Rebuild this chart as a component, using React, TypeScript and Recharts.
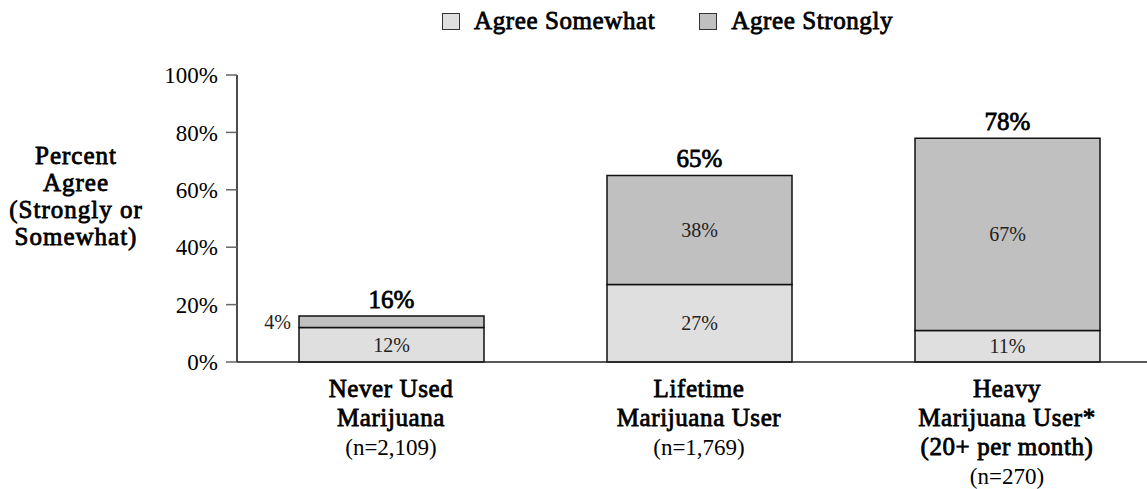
import React from "react";
import { BarChart, Bar, XAxis, YAxis, LabelList } from "recharts";

const categoryLines = [
  ["Never Used", "Marijuana"],
  ["Lifetime", "Marijuana User"],
  ["Heavy", "Marijuana User*", "(20+ per month)"],
];
const sampleSizes = ["(n=2,109)", "(n=1,769)", "(n=270)"];
const agreeSomewhat = [12, 27, 11];
const agreeStrongly = [4, 38, 67];
const totals = [16, 65, 78];
const seriesNames = ["Agree Somewhat", "Agree Strongly"];
const yTicks = [0, 20, 40, 60, 80, 100];
const yTitleLines = ["Percent", "Agree", "(Strongly or", "Somewhat)"];

const FONT = "Liberation Serif, Times New Roman, serif";
const LIGHT = "#DFDFDF";
const DARK = "#C0C0C0";

// bold serif isn't available, so fake it with a thin stroke
const boldText = { stroke: "#000", strokeWidth: 0.8, fill: "#000" };

const data = categoryLines.map((_, i) => ({
  idx: i,
  somewhat: agreeSomewhat[i],
  strongly: agreeStrongly[i],
}));

function CategoryTick(props: any) {
  const { x, y, payload } = props;
  const i = payload.value as number;
  const lines = categoryLines[i];
  return (
    <g fontFamily={FONT}>
      {lines.map((t, k) => (
        <text key={k} x={x} y={y + 35 + k * 29} textAnchor="middle" fontSize={25} letterSpacing={0.6} {...boldText}>
          {t}
        </text>
      ))}
      <text x={x} y={y + 35 + lines.length * 29} textAnchor="middle" fontSize={23} fill="#000">
        {sampleSizes[i]}
      </text>
    </g>
  );
}

function SegmentLabel(props: any) {
  const { x, y, width, height, value } = props;
  if (value < 8) {
    return (
      <text x={x - 8} y={y + height / 2} dy={7} textAnchor="end" fontSize={20} fontFamily={FONT} fill="#222">
        {value}%
      </text>
    );
  }
  return (
    <text x={x + width / 2} y={y + height / 2} dy={7} textAnchor="middle" fontSize={20} fontFamily={FONT} fill="#222">
      {value}%
    </text>
  );
}

function TotalLabel(props: any) {
  const { x, y, width, index } = props;
  return (
    <text x={x + width / 2} y={y - 8} textAnchor="middle" fontSize={25} fontFamily={FONT} {...boldText}>
      {totals[index]}%
    </text>
  );
}

function YTitle() {
  return (
    <g fontFamily={FONT} fontSize={25}>
      {yTitleLines.map((t, k) => (
        <text key={k} x={76} y={164 + k * 27} textAnchor="middle" letterSpacing={1} {...boldText}>
          {t}
        </text>
      ))}
    </g>
  );
}

function LegendBox() {
  const colors = [LIGHT, DARK];
  return (
    <div
      style={{
        position: "absolute",
        top: 7,
        left: 442,
        display: "flex",
        alignItems: "center",
        fontFamily: FONT,
        fontSize: 25,
        letterSpacing: 0.6,
        color: "#000",
        WebkitTextStroke: "0.8px #000",
      }}
    >
      {seriesNames.map((n, i) => (
        <div key={n} style={{ display: "flex", alignItems: "center", marginRight: 44 }}>
          <span
            style={{
              width: 16,
              height: 15,
              background: colors[i],
              border: "1.5px solid #333",
              marginRight: 14,
              display: "inline-block",
              boxSizing: "content-box",
            }}
          />
          {n}
        </div>
      ))}
    </div>
  );
}

export default function App() {
  return (
    <div
      style={{
        position: "absolute",
        left: 0,
        top: 0,
        width: 1147,
        height: 489,
        overflow: "hidden",
        background: "#fff",
      }}
    >
      <LegendBox />
      <BarChart width={1170} height={489} data={data} margin={{ top: 75, right: 9, left: 0, bottom: 0 }}>
        <XAxis
          dataKey="idx"
          height={127}
          tickLine={false}
          tickSize={0}
          tickMargin={0}
          axisLine={{ stroke: "#222", strokeWidth: 1.5 }}
          tick={<CategoryTick />}
          interval={0}
        />
        <YAxis
          width={237}
          domain={[0, 100]}
          ticks={yTicks}
          interval={0}
          tickFormatter={(v: number) => `${v}%`}
          tickSize={11}
          tickMargin={8}
          tickLine={{ stroke: "#666", strokeWidth: 1.5 }}
          axisLine={{ stroke: "#111", strokeWidth: 1.5 }}
          tick={{ fill: "#000", fontSize: 23, fontFamily: FONT }}
          label={{ content: () => <YTitle /> }}
        />
        <Bar dataKey="somewhat" stackId="a" fill={LIGHT} stroke="#111" strokeWidth={1.5} barSize={185} isAnimationActive={false}>
          <LabelList dataKey="somewhat" content={<SegmentLabel />} />
        </Bar>
        <Bar dataKey="strongly" stackId="a" fill={DARK} stroke="#111" strokeWidth={1.5} barSize={185} isAnimationActive={false}>
          <LabelList dataKey="strongly" content={<SegmentLabel />} />
          <LabelList dataKey="strongly" content={<TotalLabel />} />
        </Bar>
      </BarChart>
    </div>
  );
}
